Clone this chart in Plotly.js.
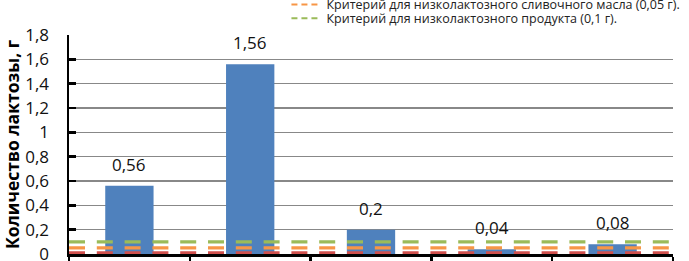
<!DOCTYPE html>
<html><head><meta charset="utf-8">
<script src="https://cdn.plot.ly/plotly-3.0.1.min.js"></script>
<style>html,body{margin:0;padding:0;background:#fff}#chart{width:689px;height:261px}</style>
</head><body><div id="chart"></div>
<script>
// Samples (category labels are cut off in the reference)
const samples = ['1', '2', '3', '4', '5'];
// Lactose content, g
const lactose = [0.56, 1.56, 0.2, 0.04, 0.08];
// Criteria levels, g
const criterionFree = 0.01;      // red (legend row cut off)
const criterionButter = 0.05;    // orange
const criterionLow = 0.1;        // green
const legendButter = 'Критерий для низколактозного сливочного масла (0,05 г).';
const legendLow = 'Критерий для низколактозного продукта (0,1 г).';
const yTitle = 'Количество лактозы, г';

const FONT = 'Open Sans, Noto Sans, sans-serif';
const span = [0, 1];
const dashPat = '16px,11.8px';
const RED = '#D0504D', ORANGE = '#F79646', GREEN = '#9BBB59';

const traces = [
  {type: 'bar', x: samples, y: lactose, marker: {color: '#4F81BD'}, showlegend: false, hoverinfo: 'skip'},
  {type: 'scatter', mode: 'lines', xaxis: 'x2', x: span, y: span.map(() => criterionFree),
   line: {color: RED, width: 3.2, dash: dashPat}, showlegend: false},
  {type: 'scatter', mode: 'lines', xaxis: 'x2', x: span, y: span.map(() => criterionButter),
   line: {color: ORANGE, width: 3.2, dash: dashPat}, showlegend: false},
  {type: 'scatter', mode: 'lines', xaxis: 'x2', x: span, y: span.map(() => criterionLow),
   line: {color: GREEN, width: 3.2, dash: dashPat}, showlegend: false},
  // legend entries (short-dash symbols, as in the reference legend); no marks drawn
  {type: 'scatter', mode: 'lines', xaxis: 'x2', x: [null], y: [null], name: legendButter, legend: 'legend',
   line: {color: ORANGE, width: 2, dash: '6px,4px'}},
  {type: 'scatter', mode: 'lines', xaxis: 'x2', x: [null], y: [null], name: legendLow, legend: 'legend2',
   line: {color: GREEN, width: 2, dash: '6px,4px'}}
];

const annotations = lactose.map((v, i) => ({
  x: i, y: v, xref: 'x', yref: 'y', text: String(v).replace('.', ','),
  showarrow: false, yanchor: 'bottom', yshift: 8,
  font: {family: FONT, size: 17, color: '#111'}
}));

const legendCommon = {xanchor: 'left', yanchor: 'middle',
  bgcolor: 'rgba(0,0,0,0)', font: {family: FONT, size: 12.5, color: '#222'}};

const layout = {
  width: 689, height: 261,
  margin: {l: 69, r: 16, t: 35, b: 7, pad: 0, autoexpand: false},
  paper_bgcolor: '#fff', plot_bgcolor: '#fff',
  separators: ', ',
  bargap: 0.6,
  font: {family: FONT, color: '#111'},
  xaxis: {type: 'category', range: [-0.5, samples.length - 0.5], autorange: false, showticklabels: false,
    ticks: 'outside', tickson: 'boundaries', ticklen: 9, tickwidth: 2.5, tickcolor: '#000',
    showline: true, linecolor: '#000', linewidth: 2.5, showgrid: false, zeroline: false, fixedrange: true},
  xaxis2: {type: 'linear', overlaying: 'x', range: [0, 1], autorange: false, visible: false, fixedrange: true},
  yaxis: {type: 'linear', range: [0, 1.8], autorange: false, dtick: 0.2, tick0: 0, ticks: 'inside', ticklen: 7, tickwidth: 2.5, tickcolor: '#000',
    showline: true, linecolor: '#000', linewidth: 2.5, showgrid: true, gridcolor: '#888', gridwidth: 1.3,
    zeroline: false, ticklabelstandoff: 14, ticklabeloverflow: 'allow',
    tickfont: {family: FONT, size: 17, color: '#111'},
    title: {text: yTitle, font: {family: FONT, size: 17.5, color: '#000', weight: 'bold'}, standoff: 5}},
  legend: Object.assign({x: 0.36, y: 1.137}, legendCommon),
  legend2: Object.assign({x: 0.36, y: 1.075}, legendCommon),
  annotations: annotations
};

Plotly.newPlot('chart', traces, layout, {displayModeBar: false, staticPlot: true});
</script></body></html>
